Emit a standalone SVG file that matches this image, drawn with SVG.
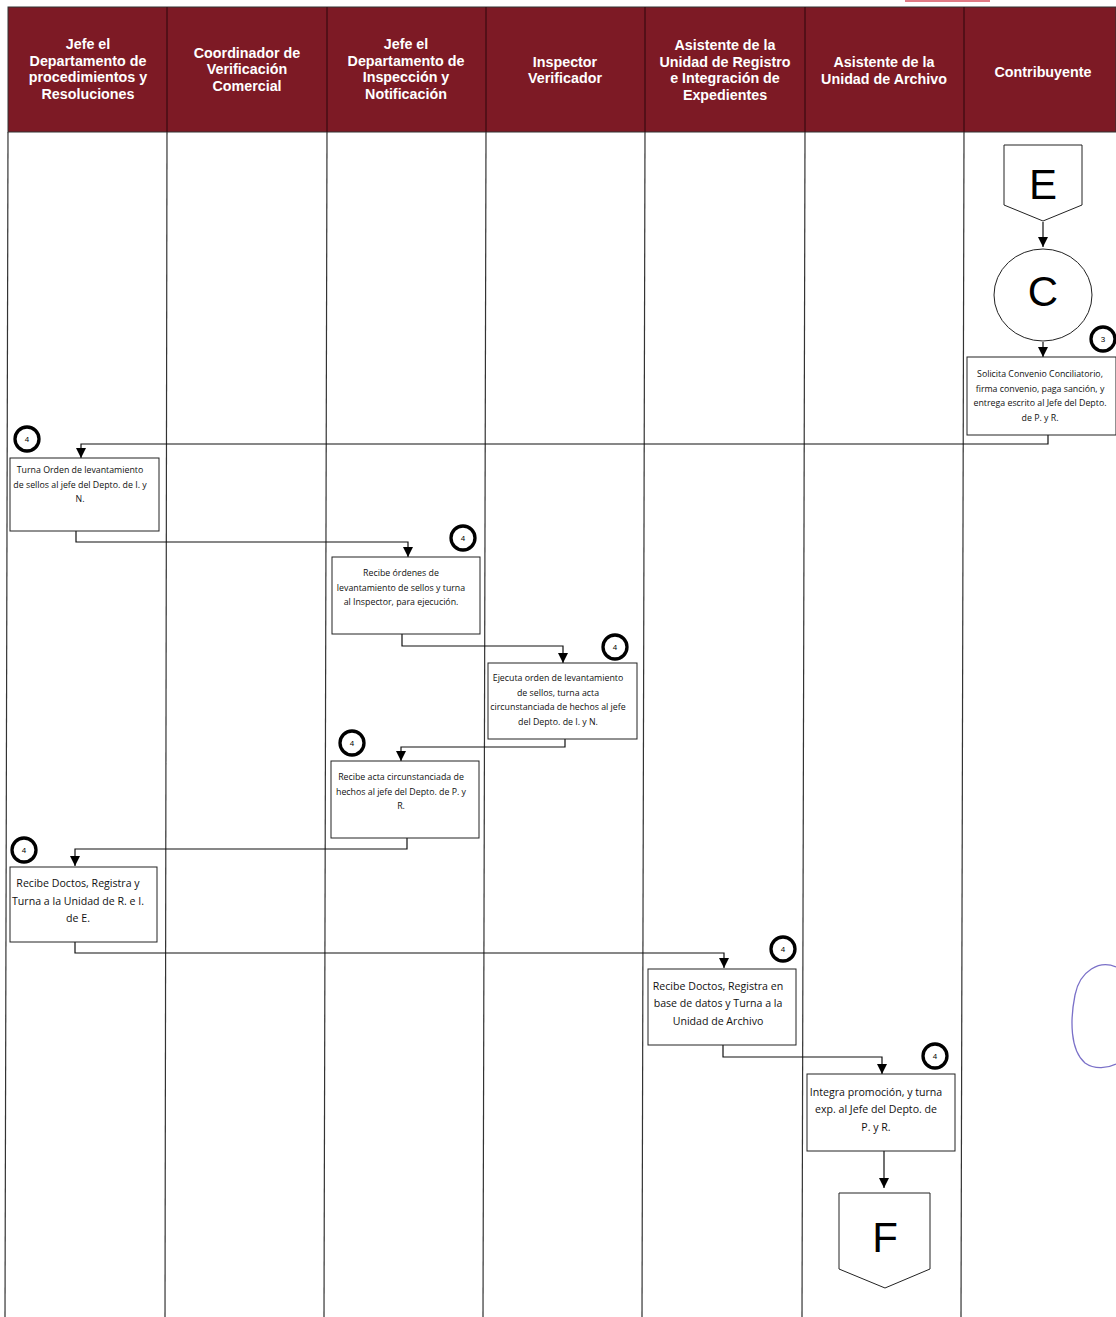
<svg xmlns="http://www.w3.org/2000/svg" width="1116" height="1317" viewBox="0 0 1116 1317">
<style>
.hd{font-family:"Liberation Sans",Arial,sans-serif;font-weight:bold;font-size:14.3px;fill:#fff;text-anchor:middle}
.lane{stroke:#333;stroke-width:1.2;fill:none}
.box{fill:#fff;stroke:#222;stroke-width:1}
.t{font-family:"Open Sans","Liberation Sans",sans-serif;font-size:8.8px;fill:#111;text-anchor:middle}
.tl{font-family:"Open Sans","Liberation Sans",sans-serif;font-size:10.6px;fill:#111;text-anchor:middle}
.cn{fill:none;stroke:#111;stroke-width:1.2}
.num{fill:#fff;stroke:#000;stroke-width:3.3}
.nt{font-family:"Liberation Sans",sans-serif;font-size:8px;fill:#000;text-anchor:middle}
.big{font-family:"Liberation Sans",Arial,sans-serif;font-size:42px;fill:#000;text-anchor:middle}
</style>
<defs>
<marker id="ah" viewBox="0 0 10 10" refX="10" refY="5" markerWidth="10" markerHeight="10" markerUnits="userSpaceOnUse" orient="auto">
<path d="M0,0 L10,5 L0,10 Z" fill="#000"/>
</marker>
</defs>
<rect width="1116" height="1317" fill="#fff"/>
<rect x="905" y="0" width="85" height="2" fill="#e07a85"/>
<g id="header">
<rect x="8" y="7" width="1108" height="125" fill="#7d1a25" stroke="#333" stroke-width="1"/>
<g stroke="#3a0a10" stroke-width="1.2">
<line x1="167" y1="7" x2="167" y2="132"/>
<line x1="327" y1="7" x2="327" y2="132"/>
<line x1="486" y1="7" x2="486" y2="132"/>
<line x1="645" y1="7" x2="645" y2="132"/>
<line x1="805" y1="7" x2="805" y2="132"/>
<line x1="964" y1="7" x2="964" y2="132"/>
</g>
<text class="hd" x="88" y="49">Jefe el</text>
<text class="hd" x="88" y="65.5">Departamento de</text>
<text class="hd" x="88" y="82">procedimientos y</text>
<text class="hd" x="88" y="98.5">Resoluciones</text>
<text class="hd" x="247" y="57.5">Coordinador de</text>
<text class="hd" x="247" y="74">Verificación</text>
<text class="hd" x="247" y="90.5">Comercial</text>
<text class="hd" x="406" y="49">Jefe el</text>
<text class="hd" x="406" y="65.5">Departamento de</text>
<text class="hd" x="406" y="82">Inspección y</text>
<text class="hd" x="406" y="98.5">Notificación</text>
<text class="hd" x="565" y="66.5">Inspector</text>
<text class="hd" x="565" y="83">Verificador</text>
<text class="hd" x="725" y="50">Asistente de la</text>
<text class="hd" x="725" y="66.5">Unidad de Registro</text>
<text class="hd" x="725" y="83">e Integración de</text>
<text class="hd" x="725" y="99.5">Expedientes</text>
<text class="hd" x="884" y="67">Asistente de la</text>
<text class="hd" x="884" y="83.5">Unidad de Archivo</text>
<text class="hd" x="1043" y="76.5">Contribuyente</text>
</g>
<g id="lanes">
<line class="lane" x1="8" y1="132" x2="5" y2="1317"/>
<line class="lane" x1="167" y1="132" x2="165" y2="1317"/>
<line class="lane" x1="327" y1="132" x2="324" y2="1317"/>
<line class="lane" x1="486" y1="132" x2="483" y2="1317"/>
<line class="lane" x1="645" y1="132" x2="642" y2="1317"/>
<line class="lane" x1="805" y1="132" x2="802" y2="1317"/>
<line class="lane" x1="964" y1="132" x2="961" y2="1317"/>
</g>
<g id="connectors">
<path class="cn" d="M1043,222 V247" marker-end="url(#ah)"/>
<path class="cn" d="M1043,342 V357" marker-end="url(#ah)"/>
<path class="cn" d="M1048,435 V444 H81 V458" marker-end="url(#ah)"/>
<path class="cn" d="M76,531 V542 H408 V557" marker-end="url(#ah)"/>
<path class="cn" d="M402,634 V646 H563 V663" marker-end="url(#ah)"/>
<path class="cn" d="M565,739 V747 H401 V761" marker-end="url(#ah)"/>
<path class="cn" d="M407,838 V849 H75 V866" marker-end="url(#ah)"/>
<path class="cn" d="M75,942 V953 H724 V968" marker-end="url(#ah)"/>
<path class="cn" d="M723,1045 V1057 H882 V1074" marker-end="url(#ah)"/>
<path class="cn" d="M884,1151 V1188" marker-end="url(#ah)" stroke-width="1.6"/>
</g>
<g id="E">
<path class="box" d="M1004,145 H1082 V205 L1043,221 L1004,205 Z"/>
<text class="big" x="1043" y="199" font-family="Open Sans, Liberation Sans, sans-serif">E</text>
</g>
<g id="C">
<ellipse class="box" cx="1043" cy="295" rx="49" ry="46"/>
<text class="big" x="1043" y="306" font-size="30" font-family="Open Sans, Liberation Sans, sans-serif">C</text>
</g>
<g id="n3">
<circle class="num" cx="1103" cy="339" r="12"/>
<text class="nt" x="1103" y="342">3</text>
</g>
<g id="s1">
<rect class="box" x="967" y="357" width="149" height="78"/>
<text class="t" x="1040" y="377">Solicita Convenio Conciliatorio,</text>
<text class="t" x="1040" y="391.5">firma convenio, paga sanción, y</text>
<text class="t" x="1040" y="406">entrega escrito al Jefe del Depto.</text>
<text class="t" x="1040" y="420.5">de P. y R.</text>
</g>
<g id="s2">
<circle class="num" cx="27" cy="439" r="12"/>
<text class="nt" x="27" y="442">4</text>
<rect class="box" x="10" y="458" width="149" height="73"/>
<text class="t" x="80" y="473">Turna Orden de levantamiento</text>
<text class="t" x="80" y="487.5">de sellos al jefe del Depto. de I. y</text>
<text class="t" x="80" y="502">N.</text>
</g>
<g id="s3">
<circle class="num" cx="463" cy="538" r="12"/>
<text class="nt" x="463" y="541">4</text>
<rect class="box" x="332" y="557" width="148" height="77"/>
<text class="t" x="401" y="576">Recibe órdenes de</text>
<text class="t" x="401" y="590.5">levantamiento de sellos y turna</text>
<text class="t" x="401" y="605">al Inspector, para ejecución.</text>
</g>
<g id="s4">
<circle class="num" cx="615" cy="647" r="12"/>
<text class="nt" x="615" y="650">4</text>
<rect class="box" x="488" y="663" width="149" height="76"/>
<text class="t" x="558" y="681">Ejecuta orden de levantamiento</text>
<text class="t" x="558" y="695.5">de sellos, turna acta</text>
<text class="t" x="558" y="710">circunstanciada de hechos al jefe</text>
<text class="t" x="558" y="724.5">del Depto. de I. y N.</text>
</g>
<g id="s5">
<circle class="num" cx="352" cy="743" r="12"/>
<text class="nt" x="352" y="746">4</text>
<rect class="box" x="331" y="761" width="148" height="77"/>
<text class="t" x="401" y="780">Recibe acta circunstanciada de</text>
<text class="t" x="401" y="794.5">hechos al jefe del Depto. de P. y</text>
<text class="t" x="401" y="809">R.</text>
</g>
<g id="s6">
<circle class="num" cx="24" cy="850" r="12"/>
<text class="nt" x="24" y="853">4</text>
<rect class="box" x="10" y="867" width="147" height="75"/>
<text class="tl" x="78" y="887">Recibe Doctos, Registra y</text>
<text class="tl" x="78" y="904.5">Turna a la Unidad de R. e I.</text>
<text class="tl" x="78" y="922">de E.</text>
</g>
<g id="s7">
<circle class="num" cx="783" cy="949" r="12"/>
<text class="nt" x="783" y="952">4</text>
<rect class="box" x="648" y="969" width="148" height="76"/>
<text class="tl" x="718" y="989.5">Recibe Doctos, Registra en</text>
<text class="tl" x="718" y="1007">base de datos y Turna a la</text>
<text class="tl" x="718" y="1024.5">Unidad de Archivo</text>
</g>
<g id="s8">
<circle class="num" cx="935" cy="1056" r="12"/>
<text class="nt" x="935" y="1059">4</text>
<rect class="box" x="807" y="1074" width="148" height="77"/>
<text class="tl" x="876" y="1095.5">Integra promoción, y turna</text>
<text class="tl" x="876" y="1113">exp. al Jefe del Depto. de</text>
<text class="tl" x="876" y="1130.5">P. y R.</text>
</g>
<g id="F">
<path class="box" d="M839,1193 H930 V1269 L885,1288 L839,1269 Z"/>
<text class="big" x="885" y="1252" font-family="Open Sans, Liberation Sans, sans-serif">F</text>
</g>
<path d="M1116,967 C1100,960 1080,970 1075,995 C1070,1020 1070,1050 1085,1063 C1095,1070 1108,1068 1116,1064" fill="none" stroke="#7a70c8" stroke-width="1.3"/>
</svg>
